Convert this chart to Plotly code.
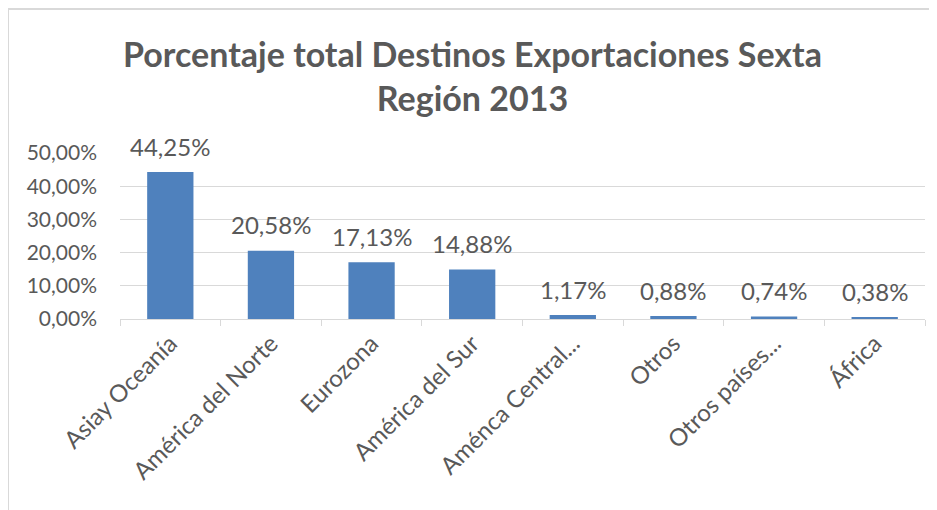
"""Porcentaje total de destinos de exportaciones, Sexta Región 2013."""

import plotly.graph_objects as go

regiones = [
    "Asiay Oceanía",
    "América del Norte",
    "Eurozona",
    "América del Sur",
    "Aménca Central...",
    "Otros",
    "Otros países...",
    "África",
]
porcentajes = [0.4425, 0.2058, 0.1713, 0.1488, 0.0117, 0.0088, 0.0074, 0.0038]
etiquetas = ["44,25%", "20,58%", "17,13%", "14,88%", "1,17%", "0,88%", "0,74%", "0,38%"]

gris = "#595959"
fuente = "Lato, 'Open Sans', sans-serif"

fig = go.Figure()

fig.add_trace(
    go.Bar(
        x=regiones,
        y=porcentajes,
        marker_color="#4f81bd",
        marker_line_width=0,
        hoverinfo="skip",
    )
)

# etiquetas de datos encima de cada barra
for reg, val, txt in zip(regiones, porcentajes, etiquetas):
    fig.add_annotation(
        x=reg,
        y=val,
        text=txt,
        showarrow=False,
        yanchor="middle",
        yshift=26,
        font=dict(size=24, color=gris, family=fuente),
    )

# la página deja 8px de margen, por eso el lienzo es algo menor
fig.update_layout(
    width=929,
    height=502,
    margin=dict(l=112, r=12, t=145, b=191),
    paper_bgcolor="white",
    plot_bgcolor="white",
    separators=",.",
    bargap=0.54,
    showlegend=False,
    title=dict(
        text="<b>Porcentaje total Destinos Exportaciones Sexta<br>Región 2013</b>",
        x=0.5,
        xanchor="center",
        y=0.8825,
        yanchor="middle",
        font=dict(size=34, color=gris, family=fuente),
    ),
    xaxis=dict(
        tickangle=-45,
        tickfont=dict(size=24, color=gris, family=fuente),
        showline=True,
        linecolor="#d9d9d9",
        linewidth=1,
        ticks="outside",
        tickson="boundaries",
        ticklen=6,
        tickcolor="#d9d9d9",
        showgrid=False,
        automargin=False,
    ),
    yaxis=dict(
        range=[0, 0.5],
        dtick=0.1,
        tickformat=".2%",
        tickfont=dict(size=21, color=gris, family=fuente),
        gridcolor="#d9d9d9",
        gridwidth=1,
        zeroline=False,
        ticks="",
        ticklabelstandoff=22,
        automargin=False,
    ),
)

# marco del gráfico (lados izquierdo y superior)
fig.add_shape(
    type="line", xref="paper", yref="paper",
    x0=-112 / 805, x1=1.02, y0=1 + 144 / 166, y1=1 + 144 / 166,
    line=dict(color="#d9d9d9", width=2),
)
fig.add_shape(
    type="line", xref="paper", yref="paper",
    x0=-112 / 805, x1=-112 / 805, y0=-1.2, y1=1 + 144 / 166,
    line=dict(color="#d9d9d9", width=2),
)

fig.write_html("out.html")
